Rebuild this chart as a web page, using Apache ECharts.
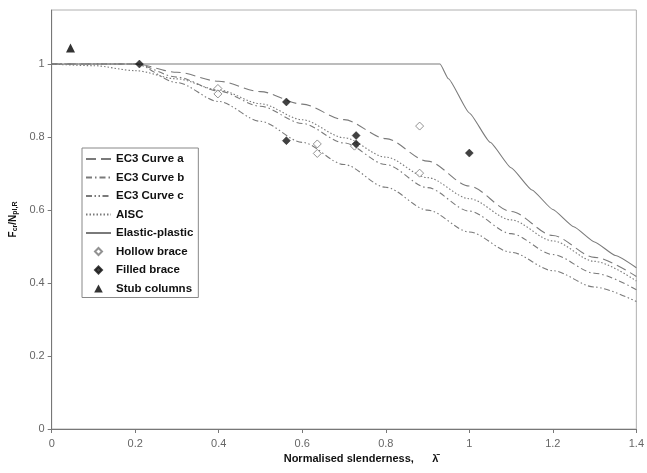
<!DOCTYPE html>
<html>
<head>
<meta charset="utf-8">
<script src="https://cdn.jsdelivr.net/npm/echarts@6/dist/echarts.min.js"></script>
<style>html,body{margin:0;padding:0;background:#fff}#c{width:647px;height:473px}</style>
</head>
<body>
<div id="c"></div>
<script>
// slenderness grid for the design curves
const lambdaGrid = [0, 0.1, 0.2, 0.3, 0.4, 0.5, 0.6, 0.7, 0.8, 0.9, 1.0, 1.1, 1.2, 1.3, 1.4];
const ec3a = [1, 1, 1, 0.9775, 0.9528, 0.9243, 0.8900, 0.8477, 0.7957, 0.7339, 0.6656, 0.5960, 0.5300, 0.4703, 0.4179];
const ec3b = [1, 1, 1, 0.9641, 0.9261, 0.8842, 0.8371, 0.7837, 0.7245, 0.6612, 0.5970, 0.5352, 0.4781, 0.4269, 0.3817];
const ec3c = [1, 1, 1, 0.9491, 0.8973, 0.8430, 0.7854, 0.7247, 0.6622, 0.5998, 0.5399, 0.4842, 0.4338, 0.3888, 0.3492];
const aisc = [1, 0.9954, 0.9818, 0.9594, 0.9290, 0.8913, 0.8473, 0.7980, 0.7448, 0.6887, 0.6310, 0.5729, 0.5153, 0.4593, 0.4056];
const epX = [0, 0.93, 0.95, 1.0, 1.05, 1.1, 1.15, 1.2, 1.25, 1.3, 1.35, 1.4];
const epY = [1, 1, 0.9596, 0.866, 0.7855, 0.7157, 0.6548, 0.6014, 0.5542, 0.5124, 0.4752, 0.4418];
// test results
const hollowX = [0.398, 0.398, 0.636, 0.636, 0.725, 0.881, 0.881];
const hollowY = [0.933, 0.918, 0.781, 0.755, 0.775, 0.830, 0.701];
const filledX = [0.21, 0.562, 0.562, 0.729, 0.729, 1.0];
const filledY = [1.0, 0.896, 0.790, 0.804, 0.781, 0.756];
const stubX = [0.045];
const stubY = [1.044];
const xTicks = [0, 0.2, 0.4, 0.6, 0.8, 1, 1.2, 1.4];

const pairs = (xs, ys) => xs.map((x, i) => [x, ys[i]]);
const lineCol = '#7a7a7a';
function curve(name, ys, type, xs) {
  return {
    name: name, type: 'line', data: pairs(xs || lambdaGrid, ys),
    symbol: 'circle', showSymbol: false, smooth: 0.3, smoothMonotone: 'x',
    lineStyle: { color: lineCol, width: 1.1, type: type },
    itemStyle: { color: lineCol, opacity: 0 }, z: 2
  };
}
// legend icons padded to the full 25x8 legend cell so they keep a small size
const diamondIcon = 'path://M0,4L0,4M25,4L25,4M12.5,0.5L16,4L12.5,7.5L9,4Z';
const triangleIcon = 'path://M0,4L0,4M25,4L25,4M12.5,0L16.8,8L8.2,8Z';

const chart = echarts.init(document.getElementById('c'), null, { renderer: 'canvas' });
chart.setOption({
  animation: false,
  textStyle: { fontFamily: 'Liberation Sans, Arial, sans-serif' },
  grid: { left: 50, right: 9, top: 10, bottom: 44, show: true, borderColor: '#b0b0b0', borderWidth: 1 },
  xAxis: {
    type: 'value', min: 0, max: 1.4, interval: 0.2,
    name: 'Normalised slenderness,      λ̄', nameLocation: 'middle', nameGap: 22,
    nameTextStyle: { fontWeight: 'bold', fontSize: 11, color: '#111', padding: [0, 0, 0, 34] },
    axisLine: { lineStyle: { color: '#777' } },
    axisTick: { inside: false, length: 4, lineStyle: { color: '#777' } },
    axisLabel: { color: '#666', fontSize: 11, margin: 9, formatter: v => xTicks.includes(+v.toFixed(2)) ? String(+v.toFixed(2)) : '' },
    splitLine: { show: false }
  },
  yAxis: {
    type: 'value', min: 0, max: 1.148, interval: 0.2,
    name: '{b|F}{s|cr}{b|/N}{s|pl,R}', nameLocation: 'middle', nameGap: 27, nameRotate: 90,
    nameTextStyle: { rich: { b: { fontWeight: 'bold', fontSize: 10, color: '#111' }, s: { fontWeight: 'bold', fontSize: 7, color: '#111', verticalAlign: 'bottom', padding: [4, 0, 0, 0] } } },
    axisLine: { show: true, lineStyle: { color: '#777' } },
    axisTick: { show: true, length: 4, lineStyle: { color: '#777' } },
    axisLabel: { color: '#666', fontSize: 11, margin: 7, showMaxLabel: false, formatter: v => (Math.abs(v * 5 - Math.round(v * 5)) < 1e-6) ? String(+v.toFixed(1)) : '' },
    splitLine: { show: false }
  },
  legend: {
    orient: 'vertical', left: 82, top: 148,
    backgroundColor: '#fff', borderColor: '#888', borderWidth: 1,
    padding: [5, 5, 3, 3], itemWidth: 25, itemHeight: 8, itemGap: 6.5,
    textStyle: { fontSize: 11.5, fontWeight: 'bold', color: '#111', lineHeight: 12 },
    data: ['EC3 Curve a', 'EC3 Curve b', 'EC3 Curve c', 'AISC', 'Elastic-plastic',
      { name: 'Hollow brace', icon: diamondIcon },
      { name: 'Filled brace', icon: diamondIcon },
      { name: 'Stub columns', icon: triangleIcon }]
  },
  series: [
    curve('EC3 Curve a', ec3a, [10, 5]),
    curve('EC3 Curve b', ec3b, [6, 3, 1.5, 3]),
    curve('EC3 Curve c', ec3c, [6, 2.5, 1.5, 2.5, 1.5, 2.5]),
    curve('AISC', aisc, [1.5, 2]),
    Object.assign(curve('Elastic-plastic', epY, 'solid', epX), { smooth: 0.15 }),
    { name: 'Hollow brace', type: 'scatter', data: pairs(hollowX, hollowY), symbol: 'diamond', symbolSize: 8,
      itemStyle: { color: '#fff', borderColor: '#777', borderWidth: 1 }, z: 5 },
    { name: 'Filled brace', type: 'scatter', data: pairs(filledX, filledY), symbol: 'diamond', symbolSize: 8,
      itemStyle: { color: '#111', borderColor: '#111', borderWidth: 0.5 }, z: 6 },
    { name: 'Stub columns', type: 'scatter', data: pairs(stubX, stubY), symbol: 'triangle', symbolSize: 9,
      itemStyle: { color: '#000' }, z: 6 }
  ]
});
</script>
</body>
</html>
